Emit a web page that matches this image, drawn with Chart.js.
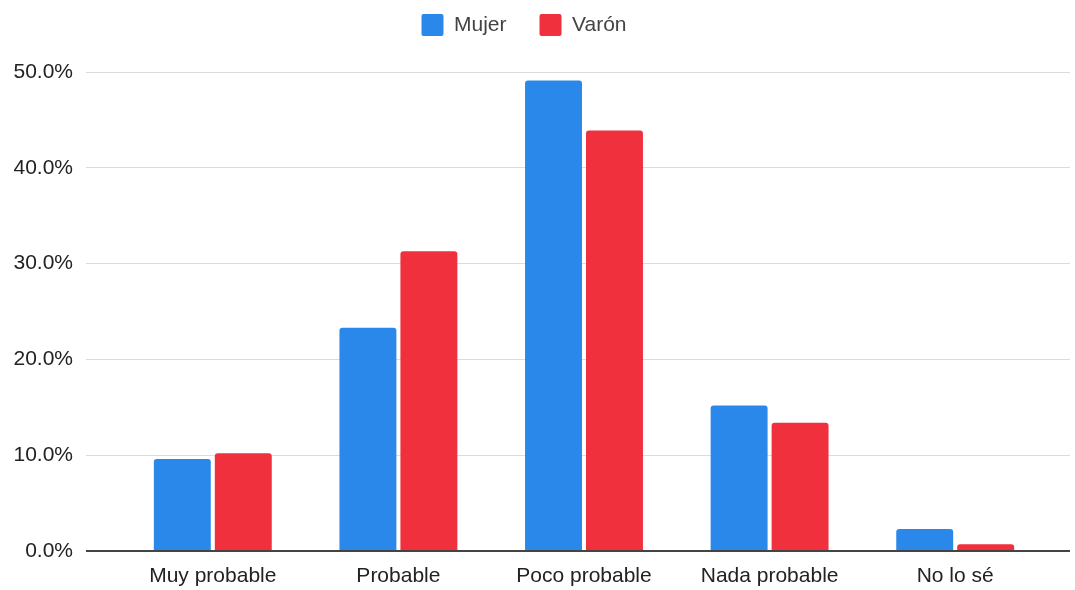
<!DOCTYPE html>
<html lang="es">
<head>
    <meta charset="UTF-8">
    <title>Mujer / Varón</title>
    <script src="https://cdn.jsdelivr.net/npm/chart.js"></script>
    <style>
        html, body { margin: 0; padding: 0; background: #fff; }
        #chart { display: block; }
    </style>
</head>
<body>
    <canvas id="chart" width="1075" height="590"></canvas>

    <script>
        // data (percent)
        const categories = ['Muy probable', 'Probable', 'Poco probable', 'Nada probable', 'No lo sé'];
        const mujer = [9.6, 23.3, 49.1, 15.2, 2.3];
        const varon = [10.2, 31.3, 43.9, 13.4, 0.7];
        const yTicks = [0, 10, 20, 30, 40, 50];

        Chart.defaults.font.family = '"Liberation Sans", Arial, Helvetica, sans-serif';

        // google-style gridlines run a bit past the plot on the right
        const gridExtend = {
            id: 'gridExtend',
            beforeDatasetsDraw(chart) {
                const y = chart.scales.y;
                const area = chart.chartArea;
                const ctx = chart.ctx;
                ctx.save();
                y.ticks.forEach(t => {
                    const zero = t.value === 0;
                    const w = zero ? 2 : 1;
                    // same pixel snapping as chart.js gridlines
                    const py = Math.round(y.getPixelForValue(t.value) - w / 2) + w / 2;
                    ctx.beginPath();
                    ctx.strokeStyle = zero ? '#444' : '#dcdcdc';
                    ctx.lineWidth = w;
                    ctx.moveTo(area.right, py);
                    ctx.lineTo(area.right + 22, py);
                    ctx.stroke();
                });
                ctx.restore();
            }
        };

        new Chart(document.getElementById('chart'), {
            type: 'bar',
            data: {
                labels: categories,
                datasets: [
                    {
                        label: 'Mujer',
                        data: mujer,
                        backgroundColor: '#2B88EB',
                        borderRadius: 3,
                        barPercentage: 0.934,
                        categoryPercentage: 0.657
                    },
                    {
                        label: 'Varón',
                        data: varon,
                        backgroundColor: '#F0313D',
                        borderRadius: 3,
                        barPercentage: 0.934,
                        categoryPercentage: 0.657
                    }
                ]
            },
            options: {
                responsive: false,
                animation: false,
                layout: { padding: { left: 0, right: 27, top: -19, bottom: 0 } },
                plugins: {
                    legend: {
                        position: 'top',
                        labels: {
                            boxWidth: 22,
                            boxHeight: 22,
                            padding: 33,
                            color: '#444',
                            font: { size: 21 },
                            useBorderRadius: true,
                            borderRadius: 2
                        }
                    },
                    // empty title used only as a spacer between legend and plot
                    title: {
                        display: true,
                        text: '',
                        weight: 500,
                        font: { size: 7, lineHeight: 1 },
                        padding: { top: 10, bottom: 9 }
                    },
                    tooltip: { enabled: false }
                },
                scales: {
                    x: {
                        grid: { display: false },
                        border: { display: false },
                        ticks: { color: '#222', font: { size: 21 }, padding: 5 },
                        afterFit(scale) { scale.height = 39; }
                    },
                    y: {
                        min: 0,
                        max: 50,
                        afterBuildTicks(scale) {
                            scale.ticks = yTicks.map(v => ({ value: v }));
                        },
                        border: { display: false },
                        grid: {
                            color: c => c.tick && c.tick.value === 0 ? '#444' : '#dcdcdc',
                            lineWidth: c => c.tick && c.tick.value === 0 ? 2 : 1,
                            tickLength: 34,
                            drawTicks: true
                        },
                        ticks: {
                            color: '#222',
                            font: { size: 21 },
                            padding: 13,
                            callback: v => v.toFixed(1) + '%'
                        },
                        afterFit(scale) { scale.width = 120; }
                    }
                }
            },
            plugins: [gridExtend]
        });
    </script>
</body>
</html>
